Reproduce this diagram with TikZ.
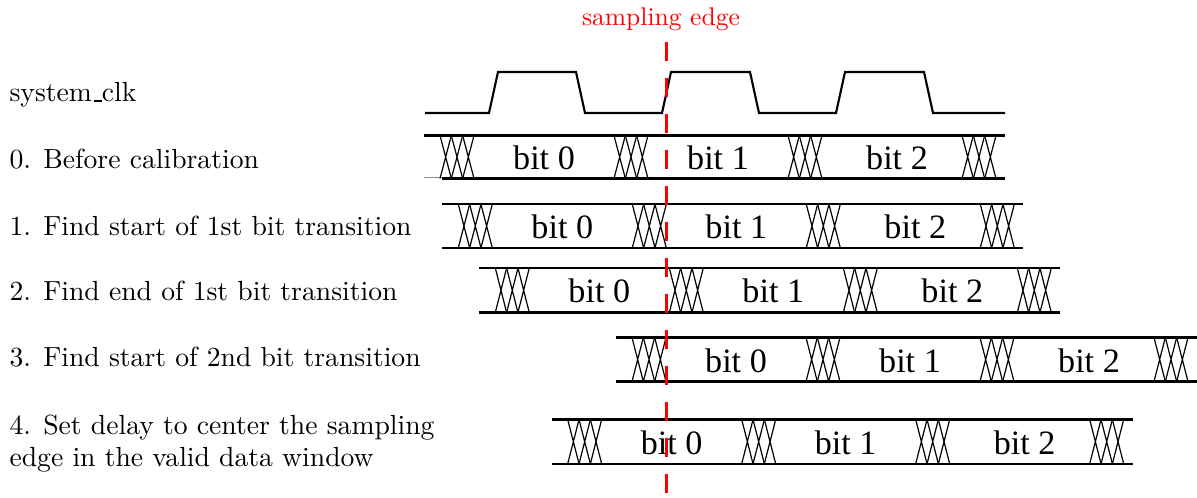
\documentclass[tikz,border=0pt]{standalone}
\usepackage{fontspec}
\newfontfamily\bitfont{Liberation Serif}
% low rule for the underscore, as in classic TeX text fonts
\newcommand\lowbar{\leavevmode\kern.06em\vbox{\hrule width.3em}}
\tikzset{
  sig/.style={line width=0.8pt, line join=miter},
  xing/.style={line width=0.45pt},
  stub/.style={line width=0.4pt, black!45},
  labelfont/.style={font=\fontsize{10.37}{12.3}\selectfont},
  steplabel/.style={anchor=base west, inner sep=0pt, labelfont},
  bitlabel/.style={anchor=base, inner sep=0pt, font=\bitfont\fontsize{12.8}{15}\selectfont},
  edgelabel/.style={anchor=base, inner sep=0pt, text=red, font=\fontsize{9.6}{11.5}\selectfont},
  edgeline/.style={red, line width=1pt, dash pattern=on 7.1pt off 6.4pt},
}
% one data lane: #1 name, #2 left end, #3 top level, #4 bottom level, #5 draw bottom line from here
\newcommand\datalane[5]{%
  \draw[sig] (#2,#3) -- ++(581,0);
  \draw[sig] (#5,#4) -- ({#2+581},#4);
  \foreach \k in {0,1,2,3}{
    \foreach \j in {0,1,2}{
      \draw[xing] ({#2+16+174*\k+11.33*\j},#3) -- ({#2+16+174*\k+11.33*(\j+1)},#4)
                  ({#2+16+174*\k+11.33*\j},#4) -- ({#2+16+174*\k+11.33*(\j+1)},#3);
    }
  }
  \foreach \k/\dx in {0/0,1/0,2/5}{
    \node[bitlabel] (#1bit\k) at ({#2+120+174*\k+\dx},{(#3+#4)/2+12.5}) {bit \k};
  }
}
\begin{document}
\begin{tikzpicture}[x=0.375pt, y=-0.375pt]
\useasboundingbox (0,0) rectangle (1197,497);

% row labels
\node[steplabel] (lclk) at (9,101.5) {system\lowbar clk};
\node[steplabel] (l0) at (9,168.3) {0. Before calibration};
\node[steplabel] (l1) at (9,235) {1. Find start of 1st bit transition};
\node[steplabel] (l2) at (9,300.5) {2. Find end of 1st bit transition};
\node[steplabel] (l3) at (9,366.7) {3. Find start of 2nd bit transition};
\node[anchor=north west, inner sep=0pt, align=left, labelfont] (l4) at (9,414)
  {4. Set delay to center the sampling\\edge in the valid data window};

% system clock
\draw[sig] (425,113) -- (489,113) -- (498,72) -- (576,72) -- (585,113)
  -- (662,113) -- (671,72) -- (750,72) -- (759,113)
  -- (836,113) -- (845,72) -- (924,72) -- (933,113) -- (1005,113);

% data lanes
\draw[stub] (424,177.8) -- (442,177.8);
\datalane{r0}{424}{135.5}{178.5}{442}
\datalane{r1}{442.3}{204.3}{247.8}{442.3}
\datalane{r2}{479.3}{268}{312.5}{479.3}
\datalane{r3}{616}{337.5}{381.5}{616}
\datalane{r4}{551.7}{419.5}{463.8}{551.7}

% sampling edge marker
\node[edgelabel] (edgetxt) at (661,25) {sampling edge};
\coordinate (edgetop) at (666.5,42);
\coordinate (edgebot) at (666.5,497);
\draw[edgeline] (edgetop) -- (edgebot);
\end{tikzpicture}
\end{document}
